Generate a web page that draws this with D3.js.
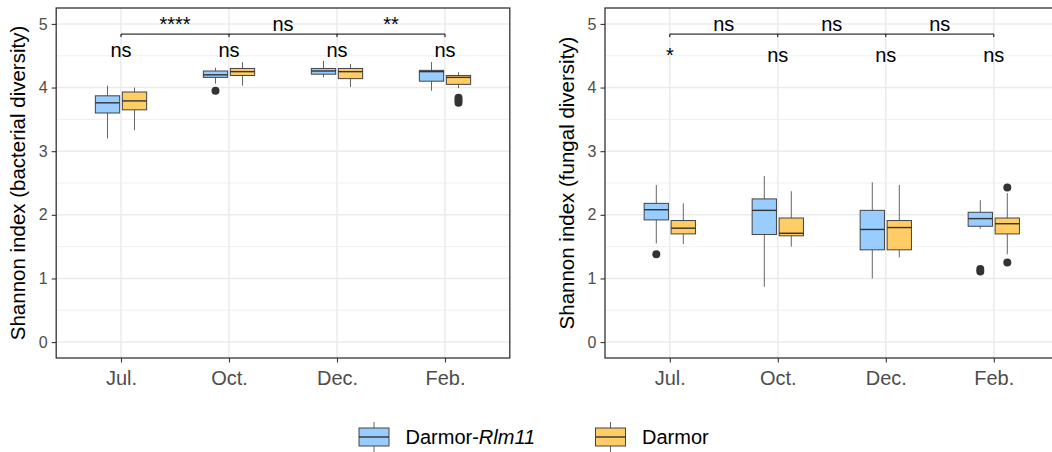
<!DOCTYPE html>
<html>
<head>
<meta charset="utf-8">
<script src="https://cdn.jsdelivr.net/npm/d3@7"></script>
<style>
  html, body { margin: 0; padding: 0; background: #fff; }
  svg { display: block; font-family: "Liberation Sans", Arial, Helvetica, sans-serif; }
</style>
</head>
<body>
<svg id="chart" width="1052" height="452"></svg>
<script>
// ---------- data ----------
const months = ["Jul.", "Oct.", "Dec.", "Feb."];
const groups = ["Darmor-Rlm11", "Darmor"];
const yTicks = [0, 1, 2, 3, 4, 5];

// box stats per month: [lower whisker, Q1, median, Q3, upper whisker]
const bactRlm11 = [[3.20, 3.60, 3.76, 3.87, 4.03], [4.06, 4.16, 4.20, 4.26, 4.31], [4.16, 4.21, 4.26, 4.30, 4.42], [3.95, 4.10, 4.25, 4.27, 4.40]];
const bactDarmor = [[3.33, 3.65, 3.79, 3.93, 4.00], [4.03, 4.19, 4.25, 4.30, 4.40], [4.01, 4.14, 4.25, 4.30, 4.37], [3.99, 4.05, 4.16, 4.19, 4.24]];
const bactOutRlm11 = [[], [3.95], [], []];
const bactOutDarmor = [[], [], [], [3.76, 3.80, 3.84]];

const fungRlm11 = [[1.55, 1.92, 2.08, 2.18, 2.47], [0.87, 1.69, 2.07, 2.25, 2.61], [1.00, 1.45, 1.77, 2.07, 2.51], [1.78, 1.82, 1.94, 2.04, 2.23]];
const fungDarmor = [[1.54, 1.70, 1.79, 1.91, 2.18], [1.50, 1.67, 1.71, 1.95, 2.37], [1.33, 1.45, 1.80, 1.91, 2.47], [1.38, 1.70, 1.86, 1.95, 2.34]];
const fungOutRlm11 = [[1.38], [], [], [1.11, 1.15]];
const fungOutDarmor = [[], [], [], [2.43, 1.25]];

// significance labels
const bactWithin = ["ns", "ns", "ns", "ns"];
const bactBetween = ["****", "ns", "**"];
const fungWithin = ["*", "ns", "ns", "ns"];
const fungBetween = ["ns", "ns", "ns"];

// ---------- style ----------
const fills = ["#99CCFF", "#FFCC66"];
const gridColor = "#EBEBEB";
const darkGray = "#333333";

const svg = d3.select("#chart");

const pTop = 8, pBottom = 358;
const y = d3.scaleLinear().domain([-0.25, 5.25]).range([pBottom, pTop]);

function panel(left, right, title, stats, outs, within, between, withinY) {
  const g = svg.append("g");
  const x = d3.scalePoint().domain(months).range([left, right]).padding(0.6);
  const step = x.step();
  const dodge = step * 0.5;            // total dodge width
  const slot = dodge / 2;
  const boxW = slot * 0.9;

  // grid
  const minor = [0.5, 1.5, 2.5, 3.5, 4.5];
  g.selectAll(".minor").data(minor).enter().append("line")
    .attr("x1", left).attr("x2", right)
    .attr("y1", d => y(d)).attr("y2", d => y(d))
    .attr("stroke", gridColor).attr("stroke-width", 0.8);
  g.selectAll(".major").data(yTicks).enter().append("line")
    .attr("x1", left).attr("x2", right)
    .attr("y1", d => y(d)).attr("y2", d => y(d))
    .attr("stroke", gridColor).attr("stroke-width", 1.5);
  g.selectAll(".vgrid").data(months).enter().append("line")
    .attr("x1", d => x(d)).attr("x2", d => x(d))
    .attr("y1", pTop).attr("y2", pBottom)
    .attr("stroke", gridColor).attr("stroke-width", 1.5);

  // boxes
  groups.forEach((grp, gi) => {
    const off = (gi === 0 ? -1 : 1) * slot / 2;
    stats[gi].forEach((s, mi) => {
      const cx = x(months[mi]) + off;
      const [lw, q1, med, q3, uw] = s;
      g.append("line").attr("x1", cx).attr("x2", cx).attr("y1", y(uw)).attr("y2", y(q3))
        .attr("stroke", "#666").attr("stroke-width", 1);
      g.append("line").attr("x1", cx).attr("x2", cx).attr("y1", y(q1)).attr("y2", y(lw))
        .attr("stroke", "#666").attr("stroke-width", 1);
      g.append("rect").attr("x", cx - boxW / 2).attr("width", boxW)
        .attr("y", y(q3)).attr("height", y(q1) - y(q3))
        .attr("fill", fills[gi]).attr("stroke", "#444").attr("stroke-width", 1);
      g.append("line").attr("x1", cx - boxW / 2).attr("x2", cx + boxW / 2)
        .attr("y1", y(med)).attr("y2", y(med))
        .attr("stroke", "#333").attr("stroke-width", 1.4);
      outs[gi][mi].forEach(v => {
        g.append("circle").attr("cx", cx).attr("cy", y(v)).attr("r", 4).attr("fill", "#333");
      });
    });
  });

  // panel border
  g.append("rect").attr("x", left).attr("y", pTop).attr("width", right - left).attr("height", pBottom - pTop)
    .attr("fill", "none").attr("stroke", darkGray).attr("stroke-width", 1.3);

  // axes
  const yAxis = g.append("g").attr("transform", `translate(${left},0)`)
    .call(d3.axisLeft(y).tickValues(yTicks).tickSize(4.5).tickPadding(4).tickFormat(d3.format("d")));
  yAxis.select(".domain").remove();
  yAxis.selectAll("line").attr("stroke", darkGray).attr("stroke-width", 1.1);
  yAxis.selectAll("text").attr("fill", "#4D4D4D").style("font-size", "16px")
    .style("font-family", "'Liberation Sans', Arial, sans-serif");

  const xAxis = g.append("g").attr("transform", `translate(0,${pBottom})`)
    .call(d3.axisBottom(x).tickSize(4.5).tickPadding(8));
  xAxis.select(".domain").remove();
  xAxis.selectAll("line").attr("stroke", darkGray).attr("stroke-width", 1.1);
  xAxis.selectAll("text").attr("fill", "#4D4D4D").style("font-size", "20px")
    .style("font-family", "'Liberation Sans', Arial, sans-serif");

  // y title
  g.append("text")
    .attr("transform", `translate(${left - 31},${(pTop + pBottom) / 2}) rotate(-90)`)
    .attr("text-anchor", "middle").attr("font-size", 20.5).attr("fill", "#000")
    .text(title);

  // bracket
  const by = y(4.84);
  g.append("line").attr("x1", x(months[0])).attr("x2", x(months[3]))
    .attr("y1", by).attr("y2", by).attr("stroke", "#000").attr("stroke-width", 1);
  months.forEach(m => {
    g.append("line").attr("x1", x(m)).attr("x2", x(m)).attr("y1", by).attr("y2", by + 3)
      .attr("stroke", "#000").attr("stroke-width", 1);
  });
  between.forEach((lab, i) => {
    g.append("text").attr("x", (x(months[i]) + x(months[i + 1])) / 2).attr("y", by - 3.5)
      .attr("text-anchor", "middle").attr("font-size", 20).attr("fill", "#000").text(lab);
  });
  within.forEach((lab, i) => {
    g.append("text").attr("x", x(months[i])).attr("y", y(withinY))
      .attr("text-anchor", "middle").attr("font-size", 20).attr("fill", "#000").text(lab);
  });
}

panel(56.2, 509.8, "Shannon index (bacterial diversity)", [bactRlm11, bactDarmor], [bactOutRlm11, bactOutDarmor], bactWithin, bactBetween, 4.48);
panel(605, 1058.6, "Shannon index (fungal diversity)", [fungRlm11, fungDarmor], [fungOutRlm11, fungOutDarmor], fungWithin, fungBetween, 4.40);

// ---------- legend ----------
const legend = svg.append("g");
const keyX = [359, 595.5];
const keyW = 30, keyTop = 428, keyBot = 446;
groups.forEach((grp, i) => {
  const kx = keyX[i];
  const cx = kx + keyW / 2;
  legend.append("line").attr("x1", cx).attr("x2", cx).attr("y1", 422).attr("y2", keyTop).attr("stroke", "#666");
  legend.append("line").attr("x1", cx).attr("x2", cx).attr("y1", keyBot).attr("y2", 452).attr("stroke", "#666");
  legend.append("rect").attr("x", kx).attr("y", keyTop).attr("width", keyW).attr("height", keyBot - keyTop)
    .attr("fill", fills[i]).attr("stroke", "#444").attr("stroke-width", 1);
  legend.append("line").attr("x1", kx).attr("x2", kx + keyW).attr("y1", (keyTop + keyBot) / 2).attr("y2", (keyTop + keyBot) / 2)
    .attr("stroke", "#333").attr("stroke-width", 1.4);
  const t = legend.append("text").attr("x", kx + keyW + 16.5).attr("y", 444).attr("font-size", 20).attr("fill", "#000");
  if (grp === "Darmor-Rlm11") {
    t.append("tspan").text("Darmor-");
    t.append("tspan").attr("font-style", "italic").text("Rlm11");
  } else {
    t.text(grp);
  }
});
</script>
</body>
</html>
